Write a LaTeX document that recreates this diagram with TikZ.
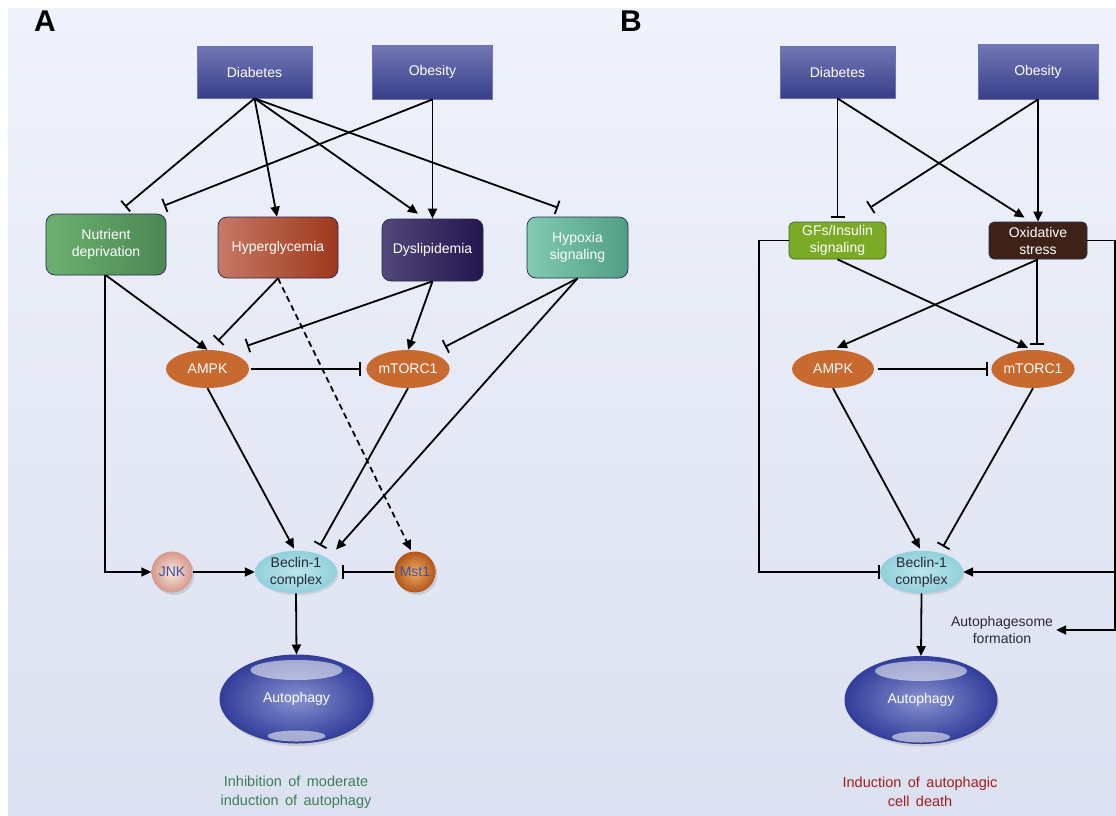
\documentclass[tikz,border=0pt]{standalone}
\usepackage{fontspec}
\setmainfont{Liberation Sans}
\newfontfamily\capfam{Liberation Sans}[WordSpace=1.6]
\usetikzlibrary{arrows.meta,shapes.geometric,shadows}
\definecolor{bgtop}{RGB}{239,242,250}
\definecolor{bgbot}{RGB}{220,225,241}
\definecolor{toptop}{RGB}{114,120,180}
\definecolor{topbot}{RGB}{56,62,138}
\definecolor{topbrd}{RGB}{110,116,176}
\definecolor{midbrd}{RGB}{40,40,80}
\definecolor{nutL}{RGB}{108,176,112}
\definecolor{nutR}{RGB}{76,136,84}
\definecolor{hypL}{RGB}{198,120,102}
\definecolor{hypR}{RGB}{158,56,28}
\definecolor{dysL}{RGB}{82,72,122}
\definecolor{dysR}{RGB}{36,22,78}
\definecolor{hpxL}{RGB}{130,202,178}
\definecolor{hpxR}{RGB}{80,158,132}
\definecolor{ampkc}{RGB}{200,105,48}
\definecolor{gfsc}{RGB}{122,170,38}
\definecolor{gfsb}{RGB}{70,100,20}
\definecolor{oxsc}{RGB}{62,34,24}
\definecolor{becIn}{RGB}{186,230,236}
\definecolor{becOut}{RGB}{146,208,218}
\definecolor{autIn}{RGB}{136,146,208}
\definecolor{autOut}{RGB}{50,62,154}
\definecolor{jnkIn}{RGB}{250,230,224}
\definecolor{jnkOut}{RGB}{214,152,140}
\definecolor{mstIn}{RGB}{240,170,106}
\definecolor{mstOut}{RGB}{178,86,24}
\definecolor{balltext}{RGB}{58,86,160}
\definecolor{capgreen}{RGB}{63,125,88}
\definecolor{capred}{RGB}{160,30,30}
\definecolor{darktext}{RGB}{40,40,56}
\tikzset{
  lbl/.style={font=\fontsize{14}{17}\selectfont, text=white, align=center},
  topbox/.style={lbl, rectangle, draw=topbrd, line width=0.8pt, top color=toptop, bottom color=topbot,
    minimum width=115pt, minimum height=52pt, inner sep=0pt},
  midbox/.style={lbl, rectangle, rounded corners=9pt, draw=midbrd, line width=0.7pt,
    minimum width=101pt, minimum height=61pt, inner sep=0pt},
  smallbox/.style={lbl, rectangle, rounded corners=5pt, draw=midbrd, line width=0.7pt,
    minimum width=97pt, minimum height=37pt, inner sep=0pt},
  ovalnode/.style={lbl, ellipse, fill=ampkc, minimum width=83pt, minimum height=38pt, inner sep=0pt},
  becnode/.style={ellipse, inner color=becIn, outer color=becOut, minimum width=82pt, minimum height=40pt,
    inner sep=0pt, font=\fontsize{14}{17}\selectfont, text=darktext, align=center,
    drop shadow={opacity=0.2, shadow xshift=1.5pt, shadow yshift=-2pt}},
  sphere/.style={circle, minimum size=41pt, inner sep=0pt, font=\fontsize{14}{17}\selectfont, text=balltext,
    drop shadow={opacity=0.25, shadow xshift=2pt, shadow yshift=-2.5pt}},
  autonode/.style={lbl, ellipse, minimum width=153pt, minimum height=88pt, inner sep=0pt,
    inner color=autIn, outer color=autOut, draw=autOut, line width=1pt,
    drop shadow={opacity=0.25, shadow xshift=2pt, shadow yshift=-3pt}},
  gloss/.style={ellipse, fill=white, fill opacity=0.55, inner sep=0pt},
  act/.style={line width=1.8pt, -{Triangle[length=10pt,width=9pt]}},
  inh/.style={line width=1.8pt, -{Bar[width=14pt,line width=1.8pt]}},
  panel/.style={font=\bfseries\fontsize{30}{30}\selectfont},
  caption/.style={font=\capfam\fontsize{14.5}{19}\selectfont, align=center}
}
\begin{document}
\begin{tikzpicture}[x=1pt,y=-1pt]
\useasboundingbox (0,0) rectangle (1116,815);
\fill[white] (0,0) rectangle (1116,815);
\shade[top color=bgtop, bottom color=bgbot] (8,8) rectangle (1116,815);

% ---------------- Panel A ----------------
\node[panel] (labA) at (45,21) {A};
\node[topbox] (diaA) at (254.5,72) {Diabetes};
\node[topbox, minimum width=120pt, minimum height=54pt] (obeA) at (432.5,72) {Obesity};
\node[midbox, minimum width=120pt, left color=nutL, right color=nutR] (nut) at (106,244.5) {Nutrient\\deprivation};
\node[midbox, minimum width=120pt, left color=hypL, right color=hypR] (hyp) at (278,247.5) {Hyperglycemia};
\node[midbox, minimum height=62pt, left color=dysL, right color=dysR] (dys) at (432.5,250) {Dyslipidemia};
\node[midbox, left color=hpxL, right color=hpxR] (hpx) at (577.5,247.5) {Hypoxia\\signaling};
\node[ovalnode] (ampkA) at (207.5,369) {AMPK};
\node[ovalnode, minimum width=82pt] (mtorA) at (408,369) {mTORC1};
\node[sphere, inner color=jnkIn, outer color=jnkOut] (jnk) at (172,572) {JNK};
\node[becnode] (becA) at (296,572) {Beclin-1\\complex};
\node[sphere, inner color=mstIn, outer color=mstOut] (mst) at (415,572) {Mst1};
\node[autonode] (autA) at (296.5,699) {Autophagy};
\node[gloss, minimum width=92pt, minimum height=20pt] (glA1) at (296.5,670) {};
\node[gloss, minimum width=58pt, minimum height=11pt] (glA2) at (296.5,736) {};
\node[caption, text=capgreen] (capA) at (296,792) {Inhibition of moderate\\induction of autophagy};

\draw[inh] (diaA.south) -- ([xshift=19pt,yshift=7pt]nut.north);
\draw[inh] (obeA.south) -- ([xshift=58pt,yshift=8pt]nut.north);
\draw[act] (diaA.south) -- ([xshift=-1pt]hyp.north);
\draw[act] (diaA.south) -- ([xshift=-14.5pt,yshift=5pt]dys.north);
\draw[inh] (diaA.south) -- ([xshift=-19.5pt,yshift=9pt]hpx.north);
\draw[act] (obeA.south) -- (dys.north);

\draw[act] (nut.south) -- (ampkA.north);
\draw[inh] (hyp.south) -- ([xshift=10.5pt,yshift=9pt]ampkA.north);
\draw[inh] (dys.south) -- ([xshift=39.5pt,yshift=4pt]ampkA.north);
\draw[act] (dys.south) -- (mtorA.north);
\draw[inh] (hpx.south) -- ([xshift=37pt,yshift=3pt]mtorA.north);
\draw[act] (hpx.south) -- ([xshift=40pt,yshift=1pt]becA.north);
\draw[inh] ([xshift=2pt]ampkA.east) -- ([xshift=-5pt]mtorA.west);
\draw[act] (ampkA.south) -- ([xshift=-2pt,yshift=2pt]becA.north);
\draw[inh] (mtorA.south) -- ([xshift=24pt,yshift=5pt]becA.north);
\draw[act, dashed, dash pattern=on 6pt off 4pt] (hyp.south) -- ([xshift=-4pt,yshift=1pt]mst.north);
\draw[act] ([xshift=-1pt]nut.south) |- (jnk.west);
\draw[act] (jnk.east) -- (becA.west);
\draw[inh] (mst.west) -- ([xshift=5pt]becA.east);
\draw[act] (becA.south) -- (autA.north);

% ---------------- Panel B ----------------
\node[panel] (labB) at (631,21) {B};
\node[topbox] (diaB) at (837.5,72) {Diabetes};
\node[topbox, minimum width=120pt, minimum height=55pt] (obeB) at (1038,71.5) {Obesity};
\node[smallbox, fill=gfsc, draw=gfsb] (gfs) at (837.5,240.5) {GFs/Insulin\\signaling};
\node[smallbox, minimum width=98pt, fill=oxsc] (oxs) at (1038,240.5) {Oxidative\\stress};
\node[ovalnode, minimum width=82pt] (ampkB) at (833,369) {AMPK};
\node[ovalnode, minimum width=82pt] (mtorB) at (1033,369) {mTORC1};
\node[becnode, minimum width=83pt] (becB) at (921.5,572) {Beclin-1\\complex};
\node[autonode, minimum width=152pt, minimum height=87pt] (autB) at (921,700) {Autophagy};
\node[gloss, minimum width=92pt, minimum height=20pt] (glB1) at (921,671) {};
\node[gloss, minimum width=58pt, minimum height=11pt] (glB2) at (921,737) {};
\node[font=\fontsize{14}{17}\selectfont, text=darktext, align=center, inner sep=3pt] (aform) at (1002,630) {Autophagesome\\formation};
\node[caption, text=capred] (capB) at (920,792) {Induction of autophagic\\cell death};
\coordinate (lc) at (759,240.5);
\coordinate (rc) at (1115,240.5);

\draw[inh] (diaB.south) -- ([yshift=4pt]gfs.north);
\draw[act] (diaB.south) -- ([xshift=-13.5pt,yshift=4pt]oxs.north);
\draw[inh] (obeB.south) -- ([xshift=32.5pt,yshift=14pt]gfs.north);
\draw[act] (obeB.south) -- (oxs.north);
\draw[act] (gfs.south) -- ([xshift=-5pt,yshift=2pt]mtorB.north);
\draw[act] (oxs.south) -- ([xshift=4pt,yshift=2pt]ampkB.north);
\draw[inh] ([xshift=-1pt]oxs.south) -- ([xshift=4pt,yshift=5pt]mtorB.north);
\draw[inh] ([xshift=4pt]ampkB.east) -- ([xshift=-3pt]mtorB.west);
\draw[inh] (gfs.west) -- (lc) |- (becB.west);
\draw[act] (oxs.east) -- (rc) |- (becB.east);
\draw[act] (rc) |- (aform.east);
\draw[act] (ampkB.south) -- ([xshift=-1.5pt,yshift=2pt]becB.north);
\draw[inh] (mtorB.south) -- ([xshift=21.5pt,yshift=4pt]becB.north);
\draw[act] (becB.south) -- (autB.north);
\end{tikzpicture}
\end{document}
